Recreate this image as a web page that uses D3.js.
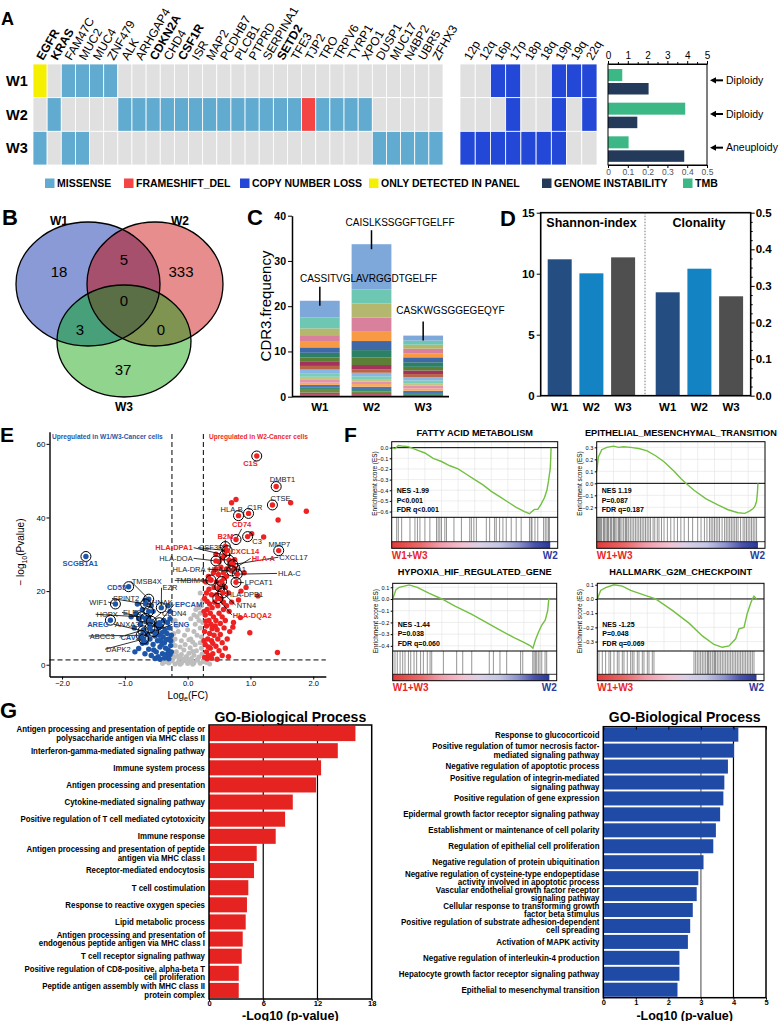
<!DOCTYPE html>
<html>
<head>
<meta charset="utf-8">
<script src="https://cdn.jsdelivr.net/npm/d3@7/dist/d3.min.js"></script>
<style>
html,body{margin:0;padding:0;background:#fff;}
svg{display:block;font-family:"Liberation Sans",Arial,Helvetica,sans-serif;}
</style>
</head>
<body>
<svg id="chart" width="781" height="1021"></svg>
<script>
// ================= DATA =================
const samples = ["W1","W2","W3"];
const genes = ["EGFR","KRAS","FAM47C","MUC2","MUC4","ZNF479","ALK","ARHGAP4","CDKN2A","CHD4","CSF1R","ISR","MAP2","PCDHB7","PLCB1","PTPRD","SERPINA1","SETD2","TFE3","TJP2","TRO","TRPV6","TYRP1","XPO1","DUSP1","MUC17","N4BP2","UBR5","ZFHX3"];
const boldGenes = ["EGFR","KRAS","CDKN2A","CSF1R","SETD2"];
// 0 none, 1 missense, 2 frameshift_del, 4 only detected in panel
const mutW1 = [4,0,1,1,1,1, 0,0,0,0,0, 0,0,0,0,0, 0,0,0,0,0, 0,0,0,0,0, 0,0,0];
const mutW2 = [0,1,0,0,0,0, 1,1,1,1,1, 1,1,1,1,1, 1,1,1, 2, 1,1,1,1, 0,0,0,0,0];
const mutW3 = [1,0,1,1, 0,0,0,0,0, 0,0,0,0,0, 0,0,0,0,0, 0,0,0,0,0, 1,1,1,1,1];
const chroms = ["12p","12q","16p","17p","18p","18q","19p","19q","22q"];
const cnW1 = [0,0,1,1,0,0,1,1,1];
const cnW2 = [0,0,0,1,0,0,1,0,1];
const cnW3 = [1,1,1,1,1,1,1,0,0];
const tmb = [0.072, 0.39, 0.104];
const genomeInstability = [2.05, 1.48, 3.85];
const ploidy = ["Diploidy","Diploidy","Aneuploidy"];
const legendNames = ["MISSENSE","FRAMESHIFT_DEL","COPY NUMBER LOSS","ONLY DETECTED IN PANEL","GENOME INSTABILITY","TMB"];

// Venn
const vennSets = ["W1","W2","W3"];
const vennRegions = ["W1","W1&W2","W2","W1&W2&W3","W1&W3","W2&W3","W3"];
const vennCounts = [18,5,333,0,3,0,37];

// CDR3 stacked clones (bottom to top)
const cdrW1 = [0.4,0.5,0.6,0.6,0.5,0.5,0.6,0.7,0.8,0.8,0.8,0.9,1.0,1.0,1.2,1.4,1.3,1.5,2.4,3.7];
const cdrW2 = [0.4,0.4,0.4,0.5,0.5,0.6,0.5,0.6,0.6,0.8,0.7,1.0,1.7,1.6,2.0,2.2,3.0,3.1,3.1,10.0];
const cdrW3 = [0.4,0.4,0.5,0.5,0.6,0.6,0.6,0.7,0.7,0.8,0.8,1.0,1.1,0.9,1.0,0.9,0.9,1.1];
const cdrTopClone = ["CASSITVGLAVRGGDTGELFF","CAISLKSSGGFTGELFF","CASKWGSGGEGEQYF"];

// Diversity
const shannon = [11.18, 10.03, 11.34];
const clonality = [0.2825, 0.347, 0.2716];

// Volcano (log_e FC, -log10 p)
const volGray = [[-0.40,0.3],[-0.35,0.8],[-0.30,0.5],[-0.25,1.0],[-0.20,0.2],[-0.15,0.7],[-0.10,0.4],[-0.05,1.1],[0,0.3],[0.05,0.9],[0.10,0.5],[0.15,1.2],[0.20,0.4],[0.25,0.9],[0.30,0.6],[0.35,0.2],[-0.38,1.1],[-0.12,0.1],[0.08,0.1],[0.28,1.2],
 [-0.22,2],[-0.18,3.5],[-0.14,1.8],[-0.10,2.8],[-0.06,4],[-0.02,2.2],[0.02,3.1],[0.06,1.7],[0.10,2.6],[0.14,3.8],[0.18,2.1],[0.22,4.5],[-0.20,5.2],[-0.12,4.8],[-0.04,5.5],[0.04,4.6],[0.12,5.4],[0.20,6.0],[-0.23,3.2],[0.23,2.9],[-0.16,2.4],[0.16,1.5],[-0.08,1.6],[0,1.5],[0.08,3.6],
 [-0.20,7],[-0.10,6.5],[-0.05,8],[0.05,7],[0.10,9],[0.15,8],[0.20,10],[0.18,12],[0.22,7.5],[-0.15,9],[0,9.5],[0.12,11],[0.08,6.2],[-0.22,8.5],[0.24,11.5],
 [0.15,13],[0.20,14],[0.22,16],[0.18,15.5],[0.10,13.5],[0.24,17.5],[0.05,12.5],[-0.20,12],[0.20,19.5],[-0.24,6.2],[0.02,6.8],[-0.17,10.5],[0.13,15]];
const volBlue = [[-0.84,3.5],[-0.78,4.4],[-0.72,5.8],[-0.68,3.0],[-0.62,4.2],[-0.58,2.5],[-0.55,5.5],[-0.50,3.5],[-0.47,2.2],[-0.44,4.8],[-0.40,3.0],[-0.37,6.0],[-0.34,2.0],[-0.31,4.0],[-0.28,2.8],[-0.27,5.2],[-0.30,7.0],[-0.33,8.5],[-0.36,9.5],[-0.39,7.5],[-0.42,10.5],[-0.45,8.0],[-0.48,6.5],[-0.52,7.8],[-0.56,9.0],[-0.60,7.0],[-0.64,8.2],[-0.66,6.0],[-0.29,10.0],[-0.32,11.5],[-0.38,12.0],[-0.26,8.0],[-0.28,12.5],[-0.35,4.5],[-0.41,5.5],[-0.46,10.0],[-0.50,11.0],[-0.54,4.0],[-0.26,3.5],[-0.30,1.6],[-0.37,1.8],[-0.44,1.5],[-0.52,1.7],[-0.70,9.5],[-0.75,11.0],[-0.78,12.5],[-0.82,14.0],[-0.72,15.0],[-0.62,13.0],[-0.58,16.0],[-0.68,17.5],[-0.80,16.5],[-0.55,14.5],[-0.85,10.0],[-0.28,14.5],[-0.31,16.0],[-0.90,13.0],[-0.74,7.5],[-0.60,10.5],[-0.66,12.0],[-0.34,6.8],[-0.43,6.6],[-0.49,9.0],[-0.27,6.5],[-0.32,3.0],[-0.40,8.8]];
const volRed = [[0.70,44.0],[0.77,44.9],[1.64,44.0],[1.89,41.7],[1.44,39.3],[1.02,35.6],[1.21,34.7],[1.12,18.7],[0.84,12.8],[0.81,17.6],[0.73,11.5],[0.72,10.2],[0.65,2.2],[1.43,3.3],[0.99,8.7],[0.93,21.0],[0.85,20.0],[0.75,28.5],[0.72,28.0],[0.68,27.5],[0.62,26.0],[0.58,23.5],[0.90,25.0],
 [0.27,2.0],[0.30,3.5],[0.33,2.5],[0.36,4.5],[0.40,3.0],[0.45,5.0],[0.50,3.8],[0.55,6.0],[0.28,5.5],[0.32,7.0],[0.35,8.5],[0.38,6.5],[0.42,8.0],[0.47,9.5],[0.52,8.2],[0.58,10.0],[0.27,9.0],[0.30,10.5],[0.34,12.0],[0.37,11.0],[0.41,13.0],[0.45,12.0],[0.50,14.0],[0.55,13.0],[0.60,12.0],[0.28,13.5],[0.31,15.0],[0.35,16.5],[0.39,15.5],[0.43,17.0],[0.48,16.0],[0.53,18.0],[0.57,17.0],[0.62,16.0],[0.27,18.0],[0.30,19.5],[0.34,20.5],[0.38,19.0],[0.42,21.0],[0.46,22.5],[0.50,20.5],[0.55,22.0],[0.60,21.0],[0.65,19.5],[0.29,22.5],[0.33,24.0],[0.37,23.0],[0.41,25.0],[0.45,26.0],[0.49,24.5],[0.53,26.5],[0.57,25.0],[0.26,14.5],[0.26,6.5],[0.31,1.6],[0.38,1.8],[0.47,1.5],[0.55,2.5],[0.60,4.5],[0.63,7.0],[0.67,9.0],[0.44,10.5],[0.36,14.0],[0.66,14.5],[0.70,17.0],[0.62,24.0],[0.50,28.0],[0.55,29.0],[0.45,30.0],[0.61,31.0],[0.33,4.8],[0.40,5.8],[0.48,7.0],[0.29,11.8],[0.39,9.8],[0.52,11.2],[0.57,15.0],[0.46,19.0],[0.31,17.2]];
// labelled genes: [name, logFC, -log10p, group]
const volHits = [["C1S",1.10,56.7,"r"],["DMBT1",1.41,48.4,"n"],["CTSE",1.35,43.4,"n"],["HLA-B",0.81,40.5,"n"],["C1R",0.97,41.1,"n"],["CD74",0.77,34.0,"r"],["C3",0.955,34.8,"n"],["MMP7",1.45,31.0,"n"],["B2M",0.60,32.1,"r"],["HLA-DPA1",0.59,29.8,"r"],["CSF3R",0.63,31.0,"n"],["CXCL14",0.66,28.4,"r"],["HLA-A",0.75,26.2,"r"],["CXCL17",0.72,27.2,"n"],["HLA-DOA",0.45,28.2,"n"],["HLA-DQA1",0.70,25.5,"n"],["HLA-C",0.79,24.6,"n"],["HLA-DRA",0.51,21.2,"n"],["TMBIM4",0.37,23.0,"n"],["LPCAT1",0.77,22.4,"n"],["HLA-DPB1",0.54,22.6,"n"],["NTN4",0.56,19.5,"n"],["HLA-DQA2",0.48,18.0,"r"],
 ["SCGB1A1",-1.62,29.4,"b"],["CD55",-0.94,21.2,"b"],["TMSB4X",-0.62,17.8,"n"],["EZR",-0.42,15.5,"n"],["WIF1",-1.15,16.5,"n"],["SPINT2",-0.67,16.5,"n"],["AHNAK",-0.62,14.5,"n"],["HOPX",-0.73,13.0,"n"],["ELF3",-0.67,12.6,"n"],["EPCAM",-0.45,11.4,"b"],["CLDN4",-0.58,11.8,"n"],["AREG",-1.23,12.1,"b"],["ANXA3",-0.71,9.2,"n"],["ENG",-0.54,9.0,"b"],["ABCC3",-0.74,8.0,"n"],["CAV2",-0.60,10.0,"b"],["DAPK2",-0.70,7.0,"n"]];

// GSEA
const gseaTitles = ["FATTY ACID METABOLISM","EPITHELIAL_MESENCHYMAL_TRANSITION","HYPOXIA_HIF_REGULATED_GENE","HALLMARK_G2M_CHECKPOINT"];
const gseaNES = ["-1.99","1.19","-1.44","-1.25"];
const gseaP = ["P<0.001","P=0.087","P=0.038","P=0.048"];
const gseaFDR = ["FDR q<0.001","FDR q=0.187","FDR q=0.060","FDR q=0.069"];
const esFatty = [[0,0],[0.02,-0.01],[0.04,0.02],[0.06,0.015],[0.1,0.01],[0.15,-0.02],[0.2,-0.05],[0.25,-0.1],[0.3,-0.13],[0.35,-0.17],[0.4,-0.2],[0.45,-0.25],[0.5,-0.3],[0.55,-0.35],[0.6,-0.41],[0.65,-0.46],[0.7,-0.51],[0.75,-0.56],[0.8,-0.6],[0.83,-0.62],[0.845,-0.6],[0.86,-0.58],[0.88,-0.58],[0.9,-0.53],[0.92,-0.47],[0.935,-0.4],[0.945,-0.31],[0.95,-0.25],[0.955,-0.2],[0.958,-0.1],[0.96,0]];
const esEMT = [[0,0.1],[0.01,0.22],[0.03,0.28],[0.06,0.3],[0.1,0.31],[0.13,0.3],[0.16,0.305],[0.2,0.3],[0.25,0.29],[0.3,0.27],[0.35,0.23],[0.4,0.18],[0.46,0.1],[0.5,0.04],[0.53,0],[0.58,-0.06],[0.65,-0.13],[0.72,-0.18],[0.78,-0.22],[0.84,-0.245],[0.88,-0.25],[0.91,-0.23],[0.93,-0.21],[0.94,-0.19],[0.95,-0.15],[0.955,-0.08],[0.958,0]];
const esHypoxia = [[0,0],[0.02,0.08],[0.04,0.1],[0.1,0.12],[0.15,0.1],[0.22,0.05],[0.3,0],[0.38,-0.06],[0.48,-0.13],[0.57,-0.2],[0.66,-0.27],[0.74,-0.33],[0.8,-0.37],[0.84,-0.4],[0.855,-0.42],[0.87,-0.35],[0.89,-0.28],[0.91,-0.22],[0.93,-0.18],[0.945,-0.1],[0.952,0],[0.955,0]];
const esG2M = [[0,0],[0.02,0.06],[0.05,0.08],[0.1,0.1],[0.15,0.09],[0.2,0.06],[0.3,0.02],[0.35,0],[0.45,-0.08],[0.55,-0.17],[0.63,-0.26],[0.7,-0.32],[0.75,-0.34],[0.79,-0.33],[0.83,-0.28],[0.85,-0.21],[0.88,-0.2],[0.9,-0.1],[0.92,-0.03],[0.93,0],[0.94,0.02],[0.955,0]];
const hitsFatty = [0.03,0.04,0.06,0.11,0.14,0.155,0.17,0.2,0.23,0.27,0.28,0.29,0.30,0.32,0.33,0.375,0.42,0.47,0.48,0.495,0.51,0.57,0.59,0.62,0.63,0.65,0.67,0.69,0.72,0.75,0.78,0.83,0.84,0.845,0.863,0.88,0.915,0.925,0.935,0.945,0.95];
const hitsEMT = [0.005,0.01,0.015,0.02,0.025,0.03,0.04,0.045,0.05,0.06,0.065,0.07,0.08,0.085,0.09,0.1,0.105,0.11,0.12,0.13,0.135,0.14,0.15,0.16,0.17,0.175,0.18,0.19,0.2,0.21,0.22,0.23,0.24,0.25,0.26,0.27,0.28,0.29,0.3,0.31,0.32,0.335,0.345,0.36,0.37,0.385,0.4,0.42,0.44,0.46,0.48,0.5,0.52,0.545,0.57,0.6,0.62,0.64,0.655,0.67,0.68,0.69,0.7,0.71,0.72,0.73,0.745,0.76,0.77,0.78,0.79,0.8,0.81,0.82,0.83,0.84,0.855,0.87,0.88,0.89,0.9,0.91,0.92,0.93,0.94,0.95];
const hitsHypoxia = [0.014,0.028,0.045,0.061,0.075,0.096,0.11,0.13,0.146,0.17,0.187,0.211,0.228,0.238,0.309,0.39,0.427,0.482,0.589,0.614,0.654,0.695,0.78,0.793,0.854,0.862,0.87,0.878,0.888,0.898,0.909,0.929,0.939];
const hitsG2M = [0.01,0.03,0.05,0.07,0.08,0.1,0.12,0.13,0.15,0.16,0.18,0.2,0.21,0.22,0.24,0.25,0.27,0.28,0.3,0.31,0.33,0.34,0.58,0.59,0.6,0.61,0.62,0.63,0.64,0.65,0.66,0.665,0.67,0.68,0.69,0.7,0.705,0.71,0.72,0.73,0.74,0.75,0.76,0.77,0.78,0.79,0.8,0.81,0.82,0.83,0.84,0.85,0.86,0.87,0.88,0.89,0.9,0.91,0.92,0.93,0.94];

// GO
const goUpTerms = ["Antigen processing and presentation of peptide or\npolysaccharide antigen via MHC class II","Interferon-gamma-mediated signaling pathway","Immune system process","Antigen processing and presentation","Cytokine-mediated signaling pathway","Positive regulation of T cell mediated cytotoxicity","Immune response","Antigen processing and presentation of peptide\nantigen via MHC class I","Receptor-mediated endocytosis","T cell costimulation","Response to reactive oxygen species","Lipid metabolic process","Antigen processing and presentation of\nendogenous peptide antigen via MHC class I","T cell receptor signaling pathway","Positive regulation of CD8-positive, alpha-beta T\ncell proliferation","Peptide antigen assembly with MHC class II\nprotein complex"];
const goUpVals = [16.2,14.25,12.4,11.85,9.27,8.42,7.38,5.28,4.98,4.35,4.2,4.06,3.73,3.62,3.29,3.29];
const goDownTerms = ["Response to glucocorticoid","Positive regulation of tumor necrosis factor-\nmediated signaling pathway","Negative regulation of apoptotic process","Positive regulation of integrin-mediated\nsignaling pathway","Positive regulation of gene expression","Epidermal growth factor receptor signaling pathway","Establishment or maintenance of cell polarity","Regulation of epithelial cell proliferation","Negative regulation of protein ubiquitination","Negative regulation of cysteine-type endopeptidase\nactivity involved in apoptotic process","Vascular endothelial growth factor receptor\nsignaling pathway","Cellular response to transforming growth\nfactor beta stimulus","Positive regulation of substrate adhesion-dependent\ncell spreading","Activation of MAPK activity","Negative regulation of interleukin-4 production","Hepatocyte growth factor receptor signaling pathway","Epithelial to mesenchymal transition"];
const goDownVals = [4.15,4.02,3.83,3.72,3.69,3.59,3.46,3.38,3.08,2.92,2.87,2.75,2.67,2.6,2.34,2.34,2.28];

// ================= HELPERS =================
const svg = d3.select("#chart");
function T(sel,x,y,s,o){
  o=o||{};
  const t=sel.append("text").attr("x",x).attr("y",y).text(s)
    .attr("font-size",o.size||10).attr("fill",o.fill||"#000")
    .attr("text-anchor",o.anchor||"start");
  if(o.bold) t.attr("font-weight","bold");
  if(o.dy) t.attr("dy",o.dy);
  if(o.rot!=null) t.attr("transform",`rotate(${o.rot},${x},${y})`);
  return t;
}
function styleAxis(ax,size,bold){
  ax.attr("font-family",null).attr("font-size",size);
  ax.selectAll("text").attr("font-weight",bold?"bold":"normal").attr("fill","#000");
  ax.selectAll("line,path").attr("stroke","#000");
}
const defs = svg.append("defs");

// panel letters
[["A",1,25,18],["B",2,225,22],["C",247,225,22],["D",500,226,22],["E",0,442,21],["F",344,442,21],["G",0,718,22]]
  .forEach(([s,x,y,sz])=>T(svg,x,y,s,{size:sz,bold:true}));

// ================= PANEL A =================
(function(){
  const g=svg.append("g");
  const xG=d3.scaleBand().domain(genes).range([33,443]);
  const yS=d3.scaleBand().domain(samples).range([64,165]);
  const mutRows=[mutW1,mutW2,mutW3];
  const mutColors={0:"#e0e0e0",1:"#62abd0",2:"#f44444",3:"#2348d8",4:"#f5ef00"};
  samples.forEach((s,i)=>{
    g.selectAll(null).data(genes).join("rect")
      .attr("x",d=>xG(d)).attr("y",yS(s)).attr("width",xG.bandwidth()).attr("height",yS.bandwidth())
      .attr("fill",(d,j)=>mutColors[mutRows[i][j]]).attr("stroke","#fff").attr("stroke-width",0.8);
  });
  genes.forEach(gn=>T(g,xG(gn)+xG.bandwidth()/2+3,61,gn,{size:12,bold:boldGenes.includes(gn),rot:-60}));
  samples.forEach(s=>T(g,6,yS(s)+yS.bandwidth()/2,s,{size:14.5,bold:true,dy:"0.36em"}));

  const xC=d3.scaleBand().domain(chroms).range([460,597]);
  const cnRows=[cnW1,cnW2,cnW3];
  samples.forEach((s,i)=>{
    g.selectAll(null).data(chroms).join("rect")
      .attr("x",d=>xC(d)).attr("y",yS(s)).attr("width",xC.bandwidth()).attr("height",yS.bandwidth())
      .attr("fill",(d,j)=>cnRows[i][j]?"#2348d8":"#e0e0e0").attr("stroke","#fff").attr("stroke-width",0.8);
  });
  chroms.forEach(c=>T(g,xC(c)+xC.bandwidth()/2+3,61,c,{size:12,rot:-60}));

  // bar chart
  const xGI=d3.scaleLinear([0,5],[608,707]);
  const xT=d3.scaleLinear([0,0.5],[608,707]);
  g.selectAll(null).data(tmb).join("rect").attr("x",608).attr("y",(d,i)=>yS(samples[i])+5)
    .attr("width",d=>xT(d)-608).attr("height",12).attr("fill","#3cb887");
  g.selectAll(null).data(genomeInstability).join("rect").attr("x",608).attr("y",(d,i)=>yS(samples[i])+19)
    .attr("width",d=>xGI(d)-608).attr("height",11.5).attr("fill","#243a5a");
  g.append("rect").attr("x",608).attr("y",64).attr("width",99).attr("height",101).attr("fill","none").attr("stroke","#000").attr("stroke-width",1);
  const at=g.append("g").attr("transform","translate(0,64)").call(d3.axisTop(xGI).ticks(5).tickSize(3).tickSizeOuter(0).tickPadding(2));
  styleAxis(at,10,false);
  g.append("g").attr("transform","translate(0,64)").call(d3.axisTop(xGI).tickValues(d3.range(0.5,5,1)).tickSize(2).tickFormat("")).call(a=>a.select(".domain").remove());
  const ab=g.append("g").attr("transform","translate(0,165)").call(d3.axisBottom(xT).tickValues([0,0.1,0.2,0.3,0.4,0.5]).tickFormat(d=>d===0?"0":d3.format(".1f")(d)).tickSize(3).tickSizeOuter(0).tickPadding(1));
  styleAxis(ab,8.5,false);
  ab.selectAll("text").attr("fill","#555");
  ploidy.forEach((p,i)=>{
    const cy=yS(samples[i])+yS.bandwidth()/2-0.5;
    g.append("line").attr("x1",714).attr("x2",723).attr("y1",cy).attr("y2",cy).attr("stroke","#000").attr("stroke-width",2);
    g.append("path").attr("d",`M710,${cy} L716,${cy-3.2} L716,${cy+3.2} Z`).attr("fill","#000");
    T(g,726,cy,p,{size:10.5,dy:"0.35em"});
  });
  // legend
  const legColors=["#62abd0","#f44444","#2348d8","#f5ef00","#243a5a","#3cb887"];
  const legX=[45,124,240,369,542,683];
  legendNames.forEach((n,i)=>{
    g.append("rect").attr("x",legX[i]).attr("y",178.5).attr("width",9.5).attr("height",9.5).attr("fill",legColors[i]);
    T(g,legX[i]+12,183.5,n,{size:10.5,bold:true,dy:"0.36em"});
  });
})();

// ================= PANEL B (Venn) =================
(function(){
  const g=svg.append("g");
  const E={W1:{cx:88,cy:284,rx:72,ry:62},W2:{cx:155,cy:284,rx:68,ry:62},W3:{cx:124,cy:341,rx:67,ry:56}};
  const fill={"W1":"#8a9ad7","W2":"#e88d8d","W3":"#91d48d","W1&W2":"#a7506d","W1&W3":"#48a07a","W2&W3":"#7e9450","W1&W2&W3":"#5a6f46"};
  vennSets.forEach(s=>{
    defs.append("clipPath").attr("id","clip"+s).append("ellipse").attr("cx",E[s].cx).attr("cy",E[s].cy).attr("rx",E[s].rx).attr("ry",E[s].ry);
  });
  const ell=(sel,s,f)=>sel.append("ellipse").attr("cx",E[s].cx).attr("cy",E[s].cy).attr("rx",E[s].rx).attr("ry",E[s].ry).attr("fill",f);
  vennSets.forEach(s=>ell(g,s,fill[s]));
  ell(g.append("g").attr("clip-path","url(#clipW1)"),"W2",fill["W1&W2"]);
  ell(g.append("g").attr("clip-path","url(#clipW1)"),"W3",fill["W1&W3"]);
  ell(g.append("g").attr("clip-path","url(#clipW2)"),"W3",fill["W2&W3"]);
  ell(g.append("g").attr("clip-path","url(#clipW1)").append("g").attr("clip-path","url(#clipW2)"),"W3",fill["W1&W2&W3"]);
  vennSets.forEach(s=>g.append("ellipse").attr("cx",E[s].cx).attr("cy",E[s].cy).attr("rx",E[s].rx).attr("ry",E[s].ry).attr("fill","none").attr("stroke","#000").attr("stroke-width",1.3));
  const pos=[[59,272],[124,260],[181,272],[124,301],[80,330],[161,330],[123,370]];
  vennCounts.forEach((c,i)=>T(g,pos[i][0],pos[i][1],c,{size:15,anchor:"middle",dy:"0.36em"}));
  const lab=[[59,225],[180,225],[124,411]];
  vennSets.forEach((s,i)=>T(g,lab[i][0],lab[i][1],s,{size:12,bold:true,anchor:"middle"}));
})();

// ================= PANEL C (CDR3 stacked) =================
(function(){
  const g=svg.append("g");
  const x=d3.scaleBand().domain(samples).range([294,449]).paddingInner(0.23).paddingOuter(0.115);
  const y=d3.scaleLinear([0,40],[396.7,215.7]);
  const pal=["#7ea7da","#6dc7b2","#b3b86e","#d9809c","#f79a43","#3f69a6","#2b8066","#5b7f35","#a3335c","#b86446","#8ab5e2","#79cdb9","#c2c681","#e394ac","#f9aa5c","#4b76b3","#3b8c72","#6c8d42","#b14569","#c47655"];
  const annG=g.append("g");
  [cdrW1,cdrW2,cdrW3].forEach((arr,i)=>{
    const cum=d3.cumsum(arr); const n=arr.length;
    arr.forEach((v,k)=>{
      const top=cum[k], bot=top-v;
      g.insert("rect",()=>annG.node()).attr("x",x(samples[i])).attr("width",x.bandwidth())
        .attr("y",y(top)).attr("height",y(bot)-y(top)).attr("fill",pal[(n-1-k)%pal.length]);
    });
    const tot=cum[n-1], cx=x(samples[i])+x.bandwidth()/2;
    annG.append("line").attr("x1",cx).attr("x2",cx).attr("y1",y(tot)-14).attr("y2",y(tot)+5).attr("stroke","#000").attr("stroke-width",1.5);
    const dx=[0,-6,-7][i], dyy=[-19,-18,-22][i];
    T(annG,x(samples[i])+dx,y(tot)+dyy,cdrTopClone[i],{size:10});
  });
  const ay=g.append("g").attr("transform","translate(292,0)").call(d3.axisLeft(y).tickValues([0,10,20,30,40]).tickSize(4).tickSizeOuter(0).tickPadding(2));
  styleAxis(ay,10.5,true); ay.select(".domain").attr("stroke-width",1.5);
  g.append("line").attr("x1",292).attr("x2",449).attr("y1",396.7).attr("y2",396.7).attr("stroke","#000").attr("stroke-width",1.8);
  samples.forEach(s=>T(g,x(s)+x.bandwidth()/2,411,s,{size:11.5,bold:true,anchor:"middle"}));
  T(g,271,306,"CDR3.frequency",{size:15,anchor:"middle",rot:-90});
})();

// ================= PANEL D (Diversity) =================
(function(){
  const g=svg.append("g");
  const yL=d3.scaleLinear([0,15],[395.7,212.7]);
  const yR=d3.scaleLinear([0,0.5],[395.7,212.7]);
  const x1=d3.scaleBand().domain(samples).range([547.7,635.1]).paddingInner(0.243).paddingOuter(0);
  const x2=d3.scaleBand().domain(samples).range([655.7,743.1]).paddingInner(0.243).paddingOuter(0);
  const cols=["#244e82","#1383c4","#4f4f4f"];
  g.selectAll(null).data(shannon).join("rect").attr("x",(d,i)=>x1(samples[i])).attr("width",x1.bandwidth())
    .attr("y",d=>yL(d)).attr("height",d=>395.7-yL(d)).attr("fill",(d,i)=>cols[i]);
  g.selectAll(null).data(clonality).join("rect").attr("x",(d,i)=>x2(samples[i])).attr("width",x2.bandwidth())
    .attr("y",d=>yR(d)).attr("height",d=>395.7-yR(d)).attr("fill",(d,i)=>cols[i]);
  g.append("rect").attr("x",540.7).attr("y",212.7).attr("width",210).attr("height",183).attr("fill","none").attr("stroke","#000").attr("stroke-width",1.6);
  g.append("line").attr("x1",645).attr("x2",645).attr("y1",212.7).attr("y2",395.7).attr("stroke","#555").attr("stroke-width",0.8).attr("stroke-dasharray","1.5,1.5");
  const al=g.append("g").attr("transform","translate(540.7,0)").call(d3.axisLeft(yL).tickValues([0,5,10,15]).tickSize(4).tickSizeOuter(0).tickPadding(2));
  styleAxis(al,11.5,true); al.select(".domain").remove();
  const ar=g.append("g").attr("transform","translate(750.7,0)").call(d3.axisRight(yR).tickValues([0,0.1,0.2,0.3,0.4,0.5]).tickFormat(d3.format(".1f")).tickSize(4).tickSizeOuter(0).tickPadding(1));
  styleAxis(ar,11.5,true); ar.select(".domain").remove();
  g.append("g").attr("transform","translate(750.7,0)").call(d3.axisRight(yR).tickValues(d3.range(0.025,0.5,0.025).filter(v=>Math.abs(v*10-Math.round(v*10))>0.01)).tickSize(2).tickFormat("")).call(a=>a.select(".domain").remove());
  T(g,591.5,227,"Shannon-index",{size:12.5,bold:true,anchor:"middle"});
  T(g,699,227,"Clonality",{size:12.5,bold:true,anchor:"middle"});
  samples.forEach(s=>{T(g,x1(s)+x1.bandwidth()/2,411,s,{size:11.5,bold:true,anchor:"middle"});T(g,x2(s)+x2.bandwidth()/2,411,s,{size:11.5,bold:true,anchor:"middle"});});
})();

// ================= PANEL E (Volcano) =================
(function(){
  const g=svg.append("g");
  const x=d3.scaleLinear([-2.2,2.2],[49.5,325.8]);
  const y=d3.scaleLinear([-3.2,63.3],[676.5,431.7]);
  [-0.25,0.25].forEach(v=>g.append("line").attr("x1",x(v)).attr("x2",x(v)).attr("y1",434).attr("y2",676.5).attr("stroke","#000").attr("stroke-width",1).attr("stroke-dasharray","5,3"));
  g.append("line").attr("x1",49.5).attr("x2",325.8).attr("y1",y(1.3)).attr("y2",y(1.3)).attr("stroke","#000").attr("stroke-width",1).attr("stroke-dasharray","5,3");
  const dot=(data,c,r)=>g.selectAll(null).data(data).join("circle").attr("cx",d=>x(d[0])).attr("cy",d=>y(d[1])).attr("r",r).attr("fill",c);
  dot(volGray,"#bdbdbd",2.5);
  dot(volBlue,"#1d55a8",2.7);
  dot(volRed,"#ee2222",2.7);
  const labs={"C1S":[1.00,54.6,"middle",0],"DMBT1":[1.51,50.3,"middle",0],"CTSE":[1.48,45.2,"middle",0],"HLA-B":[0.70,42.2,"middle",0],"C1R":[1.07,42.8,"middle",0],"CD74":[0.86,38.0,"middle",1],"B2M":[0.60,35.0,"middle",1],"C3":[1.03,33.6,"start",0],"MMP7":[1.46,32.7,"middle",0],
   "HLA-DPA1":[0.08,31.8,"end",1],"CSF3R":[0.18,31.8,"start",1],"CXCL14":[0.68,30.9,"start",0],"HLA-A":[1.02,28.9,"start",1],"CXCL17":[1.46,29.2,"start",1],"HLA-DOA":[0.08,28.9,"end",1],"HLA-DRA":[-0.24,26.0,"start",0],"HLA-DQA1":[0.33,26.0,"start",1],"HLA-C":[1.44,24.8,"start",1],"TMBIM4":[-0.19,22.9,"start",1],"LPCAT1":[0.91,22.3,"start",1],"HLA-DPB1":[0.62,19.2,"start",1],"NTN4":[0.78,16.2,"start",1],"HLA-DQA2":[0.72,13.5,"start",1],
   "SCGB1A1":[-1.71,27.6,"middle",0],"CD55":[-0.98,21.1,"end",0],"TMSB4X":[-0.89,22.7,"start",1],"EZR":[-0.40,20.9,"start",1],"WIF1":[-1.28,17.0,"end",1],"SPINT2":[-1.19,18.0,"start",1],"AHNAK":[-0.65,17.0,"start",0],"EPCAM":[-0.20,16.4,"start",1],"HOPX":[-1.45,13.7,"start",1],"ELF3":[-1.03,14.2,"start",1],"CLDN4":[-0.41,14.0,"start",1],"AREG":[-1.60,11.0,"start",0],"ANXA3":[-1.16,11.0,"start",1],"ENG":[-0.23,11.0,"start",1],"ABCC3":[-1.56,7.8,"start",1],"CAV2":[-1.07,7.5,"start",1],"DAPK2":[-1.30,4.2,"start",1]};
  const colOf={r:"#ee2222",b:"#1d55a8",n:"#222"};
  const lineG=g.append("g"), ringG=g.append("g"), txtG=g.append("g");
  volHits.forEach(([n,vx,vy,grp])=>{
    ringG.append("circle").attr("cx",x(vx)).attr("cy",y(vy)).attr("r",2.7).attr("fill",vx<0?"#1d55a8":"#ee2222");
    ringG.append("circle").attr("cx",x(vx)).attr("cy",y(vy)).attr("r",5).attr("fill","none").attr("stroke","#000").attr("stroke-width",1);
    const L=labs[n]; if(!L) return;
    T(txtG,x(L[0]),y(L[1]),n,{size:7.5,anchor:L[2],dy:"0.35em",bold:grp!=="n",fill:colOf[grp]});
    if(L[3]){
      let sx=x(L[0]), sy=y(L[1]);
      if(L[2]==="end") sx+=1; else if(L[2]==="start") sx-=1; else sy+=4;
      lineG.append("line").attr("x1",sx).attr("y1",sy).attr("x2",x(vx)).attr("y2",y(vy)).attr("stroke","#000").attr("stroke-width",0.8);
    }
  });
  const ay=g.append("g").attr("transform","translate(49.5,0)").call(d3.axisLeft(y).tickValues([0,20,40,60]).tickSize(3).tickSizeOuter(0).tickPadding(1));
  styleAxis(ay,8,false); ay.select(".domain").attr("stroke-width",1.4);
  const ax=g.append("g").attr("transform","translate(0,676.5)").call(d3.axisBottom(x).tickValues([-2,-1,0,1,2]).tickSize(3).tickSizeOuter(0).tickPadding(1));
  styleAxis(ax,7.5,false); ax.select(".domain").attr("stroke-width",1.4);
  const xl=g.append("text").attr("x",187.7).attr("y",698.5).attr("text-anchor","middle").attr("font-size",10);
  xl.append("tspan").text("Log"); xl.append("tspan").text("e").attr("font-size",7).attr("dy",2.5); xl.append("tspan").text("(FC)").attr("dy",-2.5);
  const yl=g.append("text").attr("transform","translate(24,552) rotate(-90)").attr("text-anchor","middle").attr("font-size",10);
  yl.append("tspan").text("− log"); yl.append("tspan").text("10").attr("font-size",7).attr("dy",2.5); yl.append("tspan").text("(Pvalue)").attr("dy",-2.5);
  T(g,52,439,"Upregulated in W1/W3-Cancer cells",{size:6.6,bold:true,fill:"#2a57a8"});
  T(g,209,439,"Upregulated in W2-Cancer cells",{size:6.6,bold:true,fill:"#ee2a2a"});
})();

// ================= PANEL F (GSEA) =================
(function(){
  const grad=defs.append("linearGradient").attr("id","gseaGrad");
  [[0,"#e23a3a"],[0.18,"#ea6a6a"],[0.3,"#f09aa8"],[0.45,"#f2c2d2"],[0.55,"#dcd0e6"],[0.68,"#c4c6e4"],[0.8,"#8c92cc"],[0.9,"#4a54ac"],[1,"#2a3896"]]
    .forEach(([o,c])=>grad.append("stop").attr("offset",o).attr("stop-color",c));
  const cfgs=[
    {x0:391.7,x1:557.7,top:441.7,esB:517.3,hitB:541.7,barB:548.3,titleY:436.3,labY:559,dom:[0.056,-0.654],ticks:[0,-0.1,-0.2,-0.3,-0.4,-0.5,-0.6],es:esFatty,hits:hitsFatty,end:0.955,txtY:490.7},
    {x0:596.7,x1:765,top:441.7,esB:517.3,hitB:541.7,barB:548.3,titleY:436.3,labY:559,dom:[0.347,-0.283],ticks:[0.3,0.2,0.1,0,-0.1,-0.2],es:esEMT,hits:hitsEMT,end:0.958,txtY:490.7},
    {x0:392.7,x1:556.7,top:583.3,esB:651,hitB:674.3,barB:680.7,titleY:574.7,labY:691.3,dom:[0.134,-0.444],ticks:[0.1,0,-0.1,-0.2,-0.3,-0.4],es:esHypoxia,hits:hitsHypoxia,end:0.955,txtY:624.3},
    {x0:597.3,x1:764,top:583.3,esB:651,hitB:674.3,barB:680.7,titleY:574.7,labY:691.3,dom:[0.11,-0.366],ticks:[0.1,0,-0.1,-0.2,-0.3],es:esG2M,hits:hitsG2M,end:0.955,txtY:624.3}
  ];
  cfgs.forEach((o,i)=>{
    const g=svg.append("g");
    const x=d3.scaleLinear([0,1],[o.x0,o.x1]);
    const y=d3.scaleLinear(o.dom,[o.top,o.esB]);
    g.selectAll(null).data(d3.range(0.1,1,0.1)).join("line").attr("x1",d=>x(d)).attr("x2",d=>x(d)).attr("y1",o.top).attr("y2",o.esB).attr("stroke","#e2e2e2").attr("stroke-width",0.6);
    g.selectAll(null).data(o.ticks).join("line").attr("x1",o.x0).attr("x2",o.x1).attr("y1",d=>y(d)).attr("y2",d=>y(d)).attr("stroke","#e2e2e2").attr("stroke-width",0.6);
    g.append("line").attr("x1",o.x0).attr("x2",o.x1).attr("y1",y(0)).attr("y2",y(0)).attr("stroke","#000").attr("stroke-width",1);
    g.append("path").datum(o.es).attr("d",d3.line().x(d=>x(d[0])).y(d=>y(d[1]))).attr("fill","none").attr("stroke","#72c040").attr("stroke-width",1.4);
    g.selectAll(null).data(o.hits).join("line").attr("x1",d=>x(d)).attr("x2",d=>x(d)).attr("y1",o.esB).attr("y2",o.hitB).attr("stroke","#333").attr("stroke-opacity",0.75).attr("stroke-width",0.7);
    g.append("rect").attr("x",o.x0).attr("y",o.hitB).attr("width",x(o.end)-o.x0).attr("height",o.barB-o.hitB).attr("fill","url(#gseaGrad)");
    g.append("rect").attr("x",o.x0).attr("y",o.top).attr("width",o.x1-o.x0).attr("height",o.barB-o.top).attr("fill","none").attr("stroke","#000").attr("stroke-width",1);
    g.append("line").attr("x1",o.x0).attr("x2",o.x1).attr("y1",o.esB).attr("y2",o.esB).attr("stroke","#000").attr("stroke-width",1);
    g.append("line").attr("x1",o.x0).attr("x2",o.x1).attr("y1",o.hitB).attr("y2",o.hitB).attr("stroke","#000").attr("stroke-width",0.8);
    const ay=g.append("g").attr("transform",`translate(${o.x0},0)`).call(d3.axisLeft(y).tickValues(o.ticks).tickFormat(d3.format(".1f")).tickSize(2).tickSizeOuter(0).tickPadding(1.5));
    styleAxis(ay,5.5,false); ay.select(".domain").remove();
    T(g,o.x0-15,(o.top+o.esB)/2+4,"Enrichment score (ES)",{size:6.4,anchor:"middle",rot:-90});
    T(g,(o.x0+o.x1)/2,o.titleY,gseaTitles[i],{size:9.2,bold:true,anchor:"middle"});
    T(g,o.x0+5,o.txtY,"NES  "+gseaNES[i],{size:7,bold:true,dy:"0.35em"});
    T(g,o.x0+5,o.txtY+9.5,gseaP[i],{size:7,bold:true,dy:"0.35em"});
    T(g,o.x0+5,o.txtY+19,gseaFDR[i],{size:7,bold:true,dy:"0.35em"});
    T(g,o.x0,o.labY,"W1+W3",{size:10,bold:true,fill:"#e8262a"});
    T(g,o.x1,o.labY,"W2",{size:10,bold:true,fill:"#2a3a9e",anchor:"end"});
  });
})();

// ================= PANEL G (GO) =================
function goChart(terms,vals,o){
  const g=svg.append("g");
  const x=d3.scaleLinear([0,o.max],[o.x0,o.x1]);
  const y=d3.scaleBand().domain(d3.range(terms.length)).range([o.y0,o.y1]).paddingInner(0.12).paddingOuter(0.06);
  o.grid.forEach(([v,c])=>g.append("line").attr("x1",x(v)).attr("x2",x(v)).attr("y1",o.y0).attr("y2",o.y1).attr("stroke",c).attr("stroke-width",1.2));
  g.selectAll(null).data(vals).join("rect").attr("x",o.x0).attr("y",(d,i)=>y(i)).attr("width",d=>x(d)-o.x0).attr("height",y.bandwidth()).attr("fill",o.color);
  g.append("rect").attr("x",o.x0).attr("y",o.y0).attr("width",o.x1-o.x0).attr("height",o.y1-o.y0).attr("fill","none").attr("stroke","#000").attr("stroke-width",1.5);
  if(o.topTicks) g.append("g").attr("transform",`translate(0,${o.y0})`).call(d3.axisBottom(x).tickValues(o.ticks).tickSize(3).tickFormat("")).call(a=>a.select(".domain").remove()).selectAll("line").attr("stroke","#000");
  const ax=g.append("g").attr("transform",`translate(0,${o.y1})`).call(d3.axisBottom(x).tickValues(o.ticks).tickFormat(d3.format("d")).tickSize(2).tickSizeOuter(0).tickPadding(0));
  styleAxis(ax,7.5,true); ax.select(".domain").remove();
  T(g,(o.x0+o.x1)/2,o.titleY,"GO-Biological Process",{size:14,bold:true,anchor:"middle"});
  T(g,(o.x0+o.x1)/2,1019.5,"-Log10 (p-value)",{size:12.5,bold:true,anchor:"middle"});
  terms.forEach((t,i)=>{
    const lines=t.split("\n"); const cy=y(i)+y.bandwidth()/2; const lh=8.4;
    const tx=g.append("text").attr("text-anchor","end").attr("font-size",8.2).attr("font-weight","bold")
      .attr("transform",`translate(${o.lx},0) scale(${o.sx},1) translate(${-o.lx},0)`);
    lines.forEach((ln,k)=>tx.append("tspan").attr("x",o.lx).attr("y",cy+(k-(lines.length-1)/2)*lh+2.9).text(ln));
  });
}
goChart(goUpTerms,goUpVals,{x0:209,x1:371.7,y0:725,y1:999,max:18,ticks:[0,6,12,18],grid:[[6,"#000"],[12,"#000"]],color:"#e52421",lx:205,titleY:722,sx:0.96});
goChart(goDownTerms,goDownVals,{x0:603.3,x1:766,y0:726.7,y1:997.7,max:5,ticks:[0,1,2,3,4,5],grid:[[3,"#666"],[4,"#000"]],color:"#1f4aa5",lx:599.5,titleY:722,topTicks:true,sx:0.97});
</script>
</body>
</html>
